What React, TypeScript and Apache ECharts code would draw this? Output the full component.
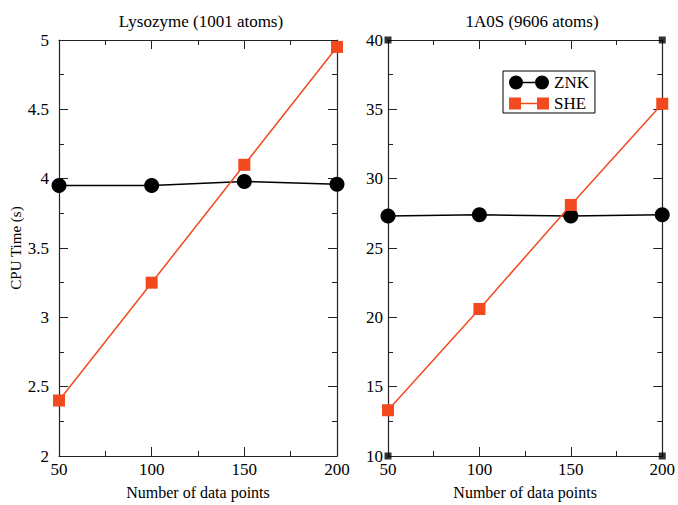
import React, { useEffect, useRef } from "react";
import * as echarts from "echarts";

const xCategories = [50, 100, 150, 200];
const lysoZNK = [3.95, 3.95, 3.98, 3.96];
const lysoSHE = [2.4, 3.25, 4.1, 4.95];
const aosZNK = [27.3, 27.4, 27.3, 27.4];
const aosSHE = [13.3, 20.6, 28.1, 35.4];
const aosCorners = [[50, 10], [200, 10], [50, 40], [200, 40]];

const FONT = "'Liberation Serif', 'DejaVu Serif', serif";
const ORANGE = "#F24A1E";
const labelStyle = { color: "#000", fontFamily: FONT, fontSize: 17 };

const ICON_ZNK =
  "path://M0,7 A7,7 0 1,0 14,7 A7,7 0 1,0 0,7 Z M26,7 A7,7 0 1,0 40,7 A7,7 0 1,0 26,7 Z M14,6.3 L26,6.3 L26,7.7 L14,7.7 Z";
const ICON_SHE =
  "path://M0,1 L12,1 L12,13 L0,13 Z M28,1 L40,1 L40,13 L28,13 Z M12,6.3 L28,6.3 L28,7.7 L12,7.7 Z M0,0 L0.01,0 L0.01,0.01 Z M39.99,14 L40,14 L40,13.99 Z";

function axisCommon(extra: any) {
  return {
    axisLine: { show: true, lineStyle: { color: "#222", width: 1.2 } },
    axisTick: { show: true, inside: true, length: 9, lineStyle: { color: "#222", width: 1 } },
    minorTick: { show: true, splitNumber: 2, length: 5, lineStyle: { color: "#222", width: 1 } },
    splitLine: { show: false },
    ...extra,
  };
}

export default function App() {
  const ref = useRef<HTMLDivElement>(null);
  useEffect(() => {
    document.body.style.margin = "0";
    document.body.style.overflow = "hidden";
    const chart = echarts.init(ref.current!, null, { renderer: "svg" });
    const xBase = { type: "value", min: 50, max: 200, interval: 50 };
    const nameStyle = { color: "#000", fontFamily: FONT, fontSize: 16 };
    const titleStyle = { fontFamily: FONT, fontSize: 17, fontWeight: "normal", color: "#000" };
    const option: any = {
      animation: false,
      backgroundColor: "#fff",
      textStyle: { fontFamily: FONT, color: "#000" },
      title: [
        { text: "Lysozyme (1001 atoms)", left: 196, top: 8, textAlign: "center", textStyle: titleStyle },
        { text: "1A0S (9606 atoms)", left: 527, top: 8, textAlign: "center", textStyle: titleStyle },
      ],
      grid: [
        { left: 59, top: 40, width: 278, height: 427 },
        { left: 388, top: 40, width: 278, height: 427 },
      ],
      xAxis: [
        axisCommon({ ...xBase, gridIndex: 0, position: "bottom", name: "Number of data points", nameLocation: "middle", nameGap: 28, nameTextStyle: nameStyle, axisLabel: { ...labelStyle, margin: 5 } }),
        axisCommon({ ...xBase, gridIndex: 0, position: "top", axisLabel: { show: false } }),
        axisCommon({ ...xBase, gridIndex: 1, position: "bottom", name: "Number of data points", nameLocation: "middle", nameGap: 28, nameTextStyle: nameStyle, axisLabel: { ...labelStyle, margin: 5 } }),
        axisCommon({ ...xBase, gridIndex: 1, position: "top", axisLabel: { show: false } }),
      ],
      yAxis: [
        axisCommon({ type: "value", gridIndex: 0, min: 2, max: 5, interval: 0.5, position: "left", name: "CPU Time (s)", nameLocation: "middle", nameGap: 31, nameTextStyle: { ...nameStyle, fontSize: 15 }, axisLabel: { ...labelStyle, margin: 10 } }),
        axisCommon({ type: "value", gridIndex: 0, min: 2, max: 5, interval: 0.5, position: "right", axisLabel: { show: false } }),
        axisCommon({ type: "value", gridIndex: 1, min: 10, max: 40, interval: 5, position: "left", axisLabel: { ...labelStyle, margin: 5 } }),
        axisCommon({ type: "value", gridIndex: 1, min: 10, max: 40, interval: 5, position: "right", axisLabel: { show: false } }),
      ],
      legend: {
        data: [
          { name: "ZNK", icon: ICON_ZNK },
          { name: "SHE", icon: ICON_SHE },
        ],
        orient: "vertical",
        left: 503,
        top: 71,
        borderColor: "#000",
        borderWidth: 1,
        padding: [3, 6, 1, 6],
        itemWidth: 40,
        itemHeight: 14,
        itemGap: 4,
        textStyle: { fontFamily: FONT, fontSize: 17, color: "#000" },
      },
      series: [
        { name: "ZNK", type: "line", xAxisIndex: 0, yAxisIndex: 0, data: xCategories.map((x, i) => [x, lysoZNK[i]]), symbol: "circle", symbolSize: 15, itemStyle: { color: "#000" }, lineStyle: { color: "#000", width: 1.5 }, z: 3 },
        { name: "SHE", type: "line", xAxisIndex: 0, yAxisIndex: 0, data: xCategories.map((x, i) => [x, lysoSHE[i]]), symbol: "rect", symbolSize: 12, itemStyle: { color: ORANGE }, lineStyle: { color: ORANGE, width: 1.5 }, z: 4 },
        { name: "ZNK", type: "line", xAxisIndex: 2, yAxisIndex: 2, data: xCategories.map((x, i) => [x, aosZNK[i]]), symbol: "circle", symbolSize: 15, itemStyle: { color: "#000" }, lineStyle: { color: "#000", width: 1.5 }, z: 3 },
        { name: "SHE", type: "line", xAxisIndex: 2, yAxisIndex: 2, data: xCategories.map((x, i) => [x, aosSHE[i]]), symbol: "rect", symbolSize: 12, itemStyle: { color: ORANGE }, lineStyle: { color: ORANGE, width: 1.5 }, z: 4 },
        { name: "corners", type: "scatter", xAxisIndex: 2, yAxisIndex: 2, data: aosCorners, symbol: "rect", symbolSize: 7, itemStyle: { color: "#000" }, z: 5 },
      ],
    };
    chart.setOption(option);
    return () => chart.dispose();
  }, []);
  return <div ref={ref} style={{ position: "absolute", left: 0, top: 0, width: 678, height: 505, overflow: "hidden" }} />;
}
